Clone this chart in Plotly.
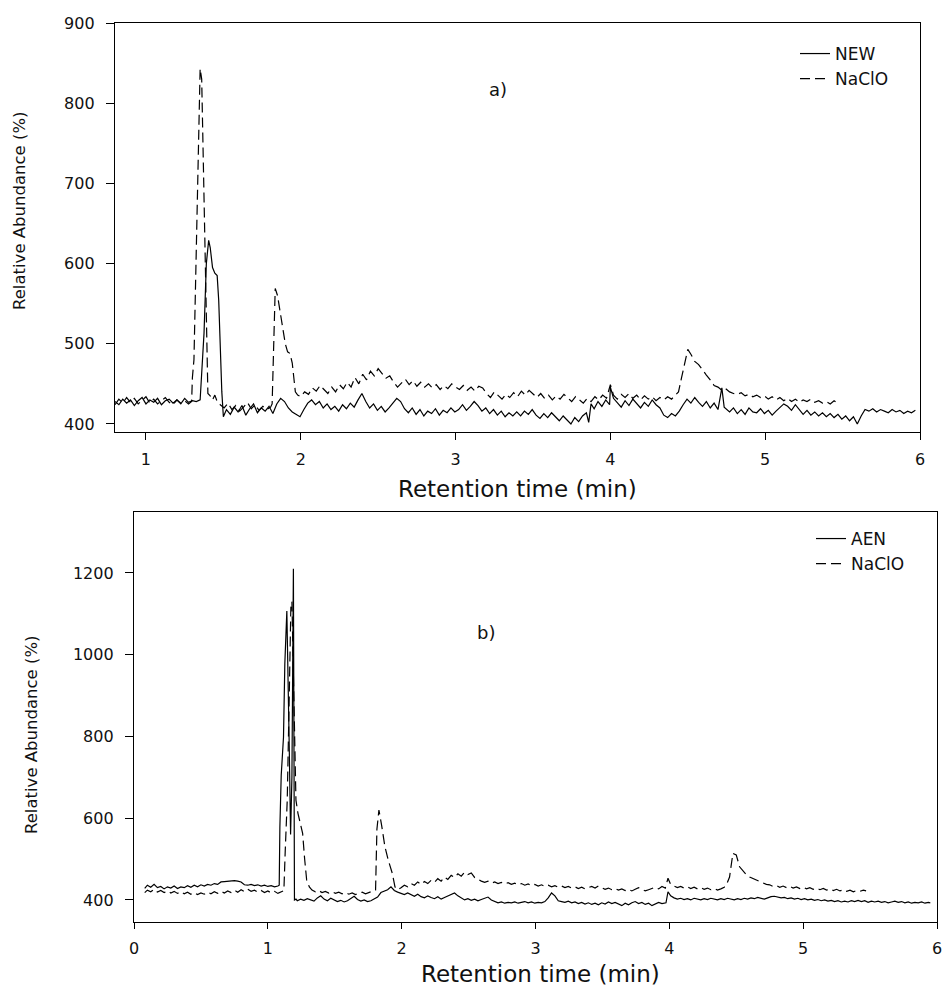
import plotly.graph_objects as go

# ---------------- data ----------------
# Panel a) : NEW vs NaClO
NEW_A = [(0.80,428),(0.825,424),(0.85,431),(0.875,426),(0.90,430),(0.925,423),(0.95,429),(0.975,433),
 (1.00,425),(1.025,430),(1.05,427),(1.075,432),(1.10,424),(1.125,429),(1.15,431),(1.175,426),(1.20,430),
 (1.225,425),(1.25,432),(1.275,427),(1.30,429),(1.325,428),(1.35,430),(1.36,470),(1.375,513),(1.39,600),
 (1.405,629),(1.415,620),(1.43,595),(1.445,588),(1.46,585),(1.47,554),(1.48,492),(1.49,440),(1.50,409),
 (1.52,418),(1.545,412),(1.57,421),(1.595,415),(1.62,423),(1.645,411),(1.67,419),(1.695,425),(1.72,414),
 (1.745,420),(1.77,416),(1.795,422),(1.82,413),(1.845,425),(1.87,432),(1.895,428),(1.92,420),(1.945,415),
 (1.97,412),(1.995,409),(2.02,418),(2.045,426),(2.07,430),(2.095,424),(2.12,428),(2.145,420),(2.17,425),
 (2.195,418),(2.22,422),(2.245,416),(2.27,424),(2.295,419),(2.32,426),(2.345,421),(2.37,430),(2.395,438),
 (2.42,428),(2.445,420),(2.47,425),(2.495,417),(2.52,422),(2.545,415),(2.57,420),(2.595,426),(2.62,432),
 (2.645,428),(2.67,419),(2.695,414),(2.72,420),(2.745,412),(2.77,418),(2.795,410),(2.82,416),(2.845,413),
 (2.87,419),(2.895,411),(2.92,417),(2.945,414),(2.97,420),(2.995,415),(3.02,418),(3.045,424),(3.07,417),
 (3.095,422),(3.12,428),(3.145,423),(3.17,416),(3.195,420),(3.22,413),(3.245,418),(3.27,411),(3.295,416),
 (3.32,409),(3.345,414),(3.37,410),(3.395,415),(3.42,410),(3.445,416),(3.47,412),(3.495,418),(3.52,411),
 (3.545,407),(3.57,413),(3.595,408),(3.62,414),(3.645,409),(3.67,404),(3.695,410),(3.72,405),(3.745,400),
 (3.77,408),(3.795,403),(3.82,410),(3.845,414),(3.86,402),(3.875,425),(3.895,419),(3.92,428),(3.945,422),
 (3.97,430),(3.995,424),(4.00,446),(4.02,432),(4.045,426),(4.07,421),(4.095,429),(4.12,423),(4.145,431),
 (4.17,425),(4.195,420),(4.22,427),(4.245,422),(4.27,430),(4.295,424),(4.32,420),(4.345,411),(4.37,408),
 (4.395,413),(4.42,410),(4.445,416),(4.47,424),(4.495,431),(4.52,426),(4.545,433),(4.57,427),(4.595,422),
 (4.62,428),(4.645,420),(4.67,426),(4.695,418),(4.72,445),(4.735,421),(4.77,415),(4.795,420),(4.82,413),
 (4.845,418),(4.87,412),(4.895,420),(4.92,415),(4.945,414),(4.97,419),(4.995,413),(5.02,417),(5.045,411),
 (5.07,416),(5.095,420),(5.12,425),(5.145,422),(5.17,417),(5.195,424),(5.22,418),(5.245,412),(5.27,417),
 (5.295,411),(5.32,415),(5.345,410),(5.37,414),(5.395,409),(5.42,413),(5.445,408),(5.47,412),(5.495,406),
 (5.52,410),(5.545,404),(5.57,409),(5.595,400),(5.62,410),(5.645,418),(5.67,416),(5.695,419),(5.72,415),
 (5.745,418),(5.77,416),(5.795,414),(5.82,418),(5.845,415),(5.87,417),(5.895,413),(5.92,416),(5.945,414),
 (5.97,417)]

NACLO_A = [(0.80,424),(0.825,431),(0.85,426),(0.875,433),(0.90,427),(0.925,432),(0.95,425),(0.975,430),
 (1.00,434),(1.025,426),(1.05,431),(1.075,425),(1.10,429),(1.125,433),(1.15,427),(1.175,424),(1.20,430),
 (1.225,426),(1.25,429),(1.275,425),(1.295,428),(1.30,458),(1.31,480),(1.32,566),(1.33,678),(1.34,760),
 (1.35,843),(1.36,830),(1.37,740),(1.38,637),(1.39,520),(1.40,438),(1.415,435),(1.43,430),(1.445,436),
 (1.46,428),(1.48,424),(1.505,420),(1.53,426),(1.555,418),(1.58,423),(1.605,416),(1.63,421),(1.655,427),
 (1.68,419),(1.705,424),(1.73,417),(1.755,422),(1.78,418),(1.805,421),(1.815,425),(1.82,471),(1.835,569),
 (1.85,560),(1.87,535),(1.885,520),(1.90,500),(1.915,490),(1.93,488),(1.945,476),(1.955,460),(1.965,440),
 (1.98,436),(2.00,434),(2.025,440),(2.05,437),(2.075,445),(2.10,441),(2.125,448),(2.15,443),(2.175,438),
 (2.20,446),(2.225,440),(2.25,449),(2.275,444),(2.30,452),(2.325,446),(2.35,458),(2.375,450),(2.40,462),
 (2.425,455),(2.45,466),(2.475,460),(2.50,469),(2.525,463),(2.55,457),(2.575,460),(2.60,452),(2.625,446),
 (2.65,451),(2.675,456),(2.70,449),(2.725,454),(2.75,447),(2.775,452),(2.80,446),(2.825,450),(2.85,445),
 (2.875,449),(2.90,443),(2.925,448),(2.95,444),(2.975,450),(3.00,446),(3.025,443),(3.05,448),(3.075,442),
 (3.10,446),(3.125,441),(3.15,447),(3.175,445),(3.20,438),(3.225,433),(3.25,440),(3.275,436),(3.30,431),
 (3.325,437),(3.35,433),(3.375,439),(3.40,434),(3.425,441),(3.45,436),(3.475,442),(3.50,437),(3.525,433),
 (3.55,438),(3.575,432),(3.60,436),(3.625,430),(3.65,435),(3.675,431),(3.70,437),(3.725,433),(3.75,428),
 (3.775,434),(3.80,430),(3.825,426),(3.85,432),(3.875,428),(3.90,434),(3.925,430),(3.95,436),(3.975,432),
 (4.00,449),(4.02,436),(4.045,431),(4.07,437),(4.095,433),(4.12,438),(4.145,432),(4.17,436),(4.195,430),
 (4.22,435),(4.245,431),(4.27,434),(4.295,429),(4.32,433),(4.345,430),(4.37,434),(4.395,431),(4.42,436),
 (4.44,440),(4.46,458),(4.48,477),(4.50,493),(4.52,487),(4.545,478),(4.57,474),(4.595,467),(4.62,461),
 (4.645,455),(4.67,448),(4.695,446),(4.72,442),(4.745,444),(4.77,440),(4.795,438),(4.82,437),(4.845,439),
 (4.87,435),(4.895,437),(4.92,434),(4.945,436),(4.97,433),(4.995,435),(5.02,431),(5.045,434),(5.07,430),
 (5.095,433),(5.12,429),(5.145,432),(5.17,428),(5.195,431),(5.22,427),(5.245,430),(5.27,428),(5.295,431),
 (5.32,427),(5.345,429),(5.37,426),(5.395,428),(5.42,425),(5.445,429),(5.47,426)]

# Panel b) : AEN vs NaClO
AEN_B = [(0.08,428),(0.10,436),(0.125,431),(0.15,438),(0.175,430),(0.20,433),(0.225,427),(0.25,432),
 (0.275,429),(0.30,434),(0.325,428),(0.35,432),(0.375,430),(0.40,435),(0.425,431),(0.45,436),(0.475,432),
 (0.50,437),(0.525,434),(0.55,438),(0.575,436),(0.60,440),(0.625,438),(0.65,444),(0.675,445),(0.70,446),
 (0.725,446),(0.75,447),(0.775,446),(0.80,444),(0.825,437),(0.85,436),(0.875,438),(0.90,435),(0.925,437),
 (0.95,434),(0.975,436),(1.00,433),(1.025,435),(1.05,432),(1.075,434),(1.085,436),(1.09,578),(1.10,705),
 (1.117,798),(1.127,978),(1.142,1107),(1.150,985),(1.160,773),(1.170,560),(1.180,700),(1.191,1210),
 (1.199,400),(1.21,402),(1.22,398),(1.245,402),(1.27,399),(1.295,403),(1.32,400),(1.345,397),(1.37,405),
 (1.395,410),(1.42,402),(1.445,398),(1.47,404),(1.495,400),(1.52,396),(1.545,399),(1.57,395),(1.595,398),
 (1.62,403),(1.645,409),(1.67,401),(1.695,397),(1.72,400),(1.745,396),(1.77,398),(1.795,402),(1.82,407),
 (1.845,418),(1.87,421),(1.895,425),(1.92,432),(1.945,423),(1.97,419),(1.995,416),(2.02,413),(2.045,417),
 (2.07,412),(2.095,409),(2.12,414),(2.145,408),(2.17,405),(2.195,410),(2.22,406),(2.245,403),(2.27,408),
 (2.295,402),(2.32,406),(2.345,410),(2.37,414),(2.395,417),(2.42,410),(2.445,404),(2.47,400),(2.495,403),
 (2.52,399),(2.545,402),(2.57,398),(2.595,401),(2.62,404),(2.645,407),(2.67,400),(2.695,396),(2.72,393),
 (2.745,395),(2.77,392),(2.795,394),(2.82,393),(2.845,395),(2.87,392),(2.895,394),(2.92,396),(2.945,393),
 (2.97,395),(2.995,392),(3.02,394),(3.045,393),(3.07,396),(3.095,405),(3.12,417),(3.145,410),(3.17,398),
 (3.195,396),(3.22,394),(3.245,397),(3.27,393),(3.295,395),(3.32,391),(3.345,394),(3.37,390),(3.395,393),
 (3.42,389),(3.445,392),(3.47,388),(3.495,393),(3.52,390),(3.545,395),(3.57,391),(3.595,394),(3.62,389),
 (3.645,386),(3.67,392),(3.695,388),(3.72,393),(3.745,396),(3.77,391),(3.795,394),(3.82,389),(3.845,392),
 (3.87,386),(3.895,390),(3.92,394),(3.945,391),(3.975,393),(3.99,420),(4.01,410),(4.035,405),(4.06,402),
 (4.085,404),(4.11,401),(4.135,403),(4.16,400),(4.185,404),(4.21,402),(4.235,400),(4.26,403),(4.285,401),
 (4.31,404),(4.335,402),(4.36,400),(4.385,403),(4.41,401),(4.435,404),(4.46,402),(4.485,400),(4.51,403),
 (4.535,401),(4.56,404),(4.585,402),(4.61,405),(4.635,403),(4.66,406),(4.685,404),(4.71,402),(4.735,405),
 (4.76,408),(4.785,409),(4.81,407),(4.835,405),(4.86,406),(4.885,403),(4.91,405),(4.935,402),(4.96,404),
 (4.985,401),(5.01,403),(5.035,400),(5.06,402),(5.085,399),(5.11,401),(5.135,398),(5.16,400),(5.185,397),
 (5.21,399),(5.235,396),(5.26,398),(5.285,395),(5.31,397),(5.335,395),(5.36,398),(5.385,396),(5.41,399),
 (5.435,396),(5.46,398),(5.485,394),(5.51,397),(5.535,395),(5.56,397),(5.585,394),(5.61,396),(5.635,393),
 (5.66,395),(5.685,397),(5.71,394),(5.735,396),(5.76,393),(5.785,395),(5.81,392),(5.835,394),(5.86,393),
 (5.885,395),(5.91,392),(5.935,394),(5.95,393)]

NACLO_B = [(0.08,418),(0.10,424),(0.125,420),(0.15,426),(0.175,419),(0.20,423),(0.225,418),(0.25,422),
 (0.275,417),(0.30,421),(0.325,416),(0.35,420),(0.375,415),(0.40,419),(0.425,414),(0.45,418),(0.475,413),
 (0.50,417),(0.525,414),(0.55,419),(0.575,415),(0.60,420),(0.625,416),(0.65,421),(0.675,417),(0.70,422),
 (0.725,418),(0.75,424),(0.775,419),(0.80,425),(0.825,420),(0.85,426),(0.875,421),(0.90,424),(0.925,419),
 (0.95,423),(0.975,418),(1.00,422),(1.025,417),(1.05,421),(1.075,416),(1.10,419),(1.12,423),(1.13,520),
 (1.145,644),(1.16,900),(1.172,1115),(1.18,1130),(1.19,953),(1.20,760),(1.21,644),(1.225,612),(1.24,590),
 (1.26,563),(1.275,500),(1.29,449),(1.31,432),(1.33,424),(1.355,420),(1.38,423),(1.405,418),(1.43,421),
 (1.455,417),(1.48,420),(1.505,416),(1.53,419),(1.555,415),(1.58,418),(1.605,414),(1.63,417),(1.655,413),
 (1.68,416),(1.705,419),(1.73,415),(1.755,418),(1.78,421),(1.805,424),(1.815,573),(1.83,620),(1.85,583),
 (1.875,530),(1.90,497),(1.93,465),(1.95,432),(1.97,425),(1.995,430),(2.02,436),(2.045,432),(2.07,440),
 (2.095,436),(2.12,444),(2.145,438),(2.17,445),(2.195,440),(2.22,448),(2.245,443),(2.27,452),(2.295,446),
 (2.32,456),(2.345,450),(2.37,460),(2.395,455),(2.42,464),(2.445,458),(2.47,468),(2.495,462),(2.52,466),
 (2.545,455),(2.57,450),(2.595,446),(2.62,443),(2.645,446),(2.67,441),(2.695,444),(2.72,440),(2.745,443),
 (2.77,439),(2.795,442),(2.82,438),(2.845,441),(2.87,437),(2.895,440),(2.92,436),(2.945,439),(2.97,435),
 (2.995,438),(3.02,434),(3.045,437),(3.07,433),(3.095,436),(3.12,432),(3.145,435),(3.17,431),(3.195,434),
 (3.22,430),(3.245,433),(3.27,429),(3.295,432),(3.32,428),(3.345,431),(3.37,427),(3.395,430),(3.42,433),
 (3.445,429),(3.47,434),(3.495,430),(3.52,426),(3.545,429),(3.57,425),(3.595,428),(3.62,424),(3.645,427),
 (3.67,423),(3.695,426),(3.72,422),(3.745,426),(3.77,430),(3.795,426),(3.82,422),(3.845,425),(3.87,428),
 (3.895,431),(3.92,427),(3.945,433),(3.97,429),(3.99,453),(4.01,438),(4.035,434),(4.06,430),(4.085,433),
 (4.11,429),(4.135,432),(4.16,428),(4.185,431),(4.21,427),(4.235,430),(4.26,426),(4.285,429),(4.31,425),
 (4.335,428),(4.36,424),(4.385,427),(4.41,431),(4.43,440),(4.45,456),(4.475,514),(4.50,510),(4.525,481),
 (4.55,470),(4.575,462),(4.60,456),(4.625,452),(4.65,449),(4.675,445),(4.70,441),(4.725,438),(4.75,437),
 (4.775,433),(4.80,435),(4.825,431),(4.85,434),(4.875,430),(4.90,433),(4.925,429),(4.95,432),(4.975,428),
 (5.00,431),(5.025,427),(5.05,430),(5.075,426),(5.10,429),(5.125,425),(5.15,428),(5.175,424),(5.20,427),
 (5.225,423),(5.25,426),(5.275,422),(5.30,425),(5.325,421),(5.35,424),(5.375,420),(5.40,423),(5.425,421),
 (5.45,424),(5.47,422)]

X_TICKS_A = [1, 2, 3, 4, 5, 6]
Y_TICKS_A = [400, 500, 600, 700, 800, 900]
X_TICKS_B = [0, 1, 2, 3, 4, 5, 6]
Y_TICKS_B = [400, 600, 800, 1000, 1200]

# ---------------- figure ----------------
W, H = 946, 987
FONT = "DejaVu Sans"
INK = "#111111"
DASH = "10px,5px"

def px_x(p):
    return p / W

def px_y(p):
    return 1 - p / H

fig = go.Figure()

def add(series, name, dash, xa, ya, legend):
    t, v = zip(*series)
    fig.add_trace(go.Scatter(x=list(t), y=list(v), mode="lines", name=name,
                             line=dict(color="black", width=1.2, dash=dash),
                             xaxis=xa, yaxis=ya, legend=legend))

add(NEW_A, "NEW", "solid", "x", "y", "legend")
add(NACLO_A, "NaClO", DASH, "x", "y", "legend")
add(AEN_B, "AEN", "solid", "x2", "y2", "legend2")
add(NACLO_B, "NaClO", DASH, "x2", "y2", "legend2")

axis_common = dict(showline=True, mirror=True, linecolor="black", linewidth=1.3,
                   ticks="outside", tickcolor="black", tickwidth=1.2, showgrid=False,
                   zeroline=False, automargin=False,
                   tickfont=dict(family=FONT, size=16, color=INK))

fig.update_layout(
    width=W, height=H, autosize=False,
    margin=dict(l=0, r=0, t=0, b=0, autoexpand=False),
    paper_bgcolor="white", plot_bgcolor="white",
    xaxis=dict(domain=[px_x(115), px_x(920)], range=[0.8, 6.0], tickvals=X_TICKS_A,
               anchor="y", ticklen=7, ticklabelstandoff=6, **axis_common),
    yaxis=dict(domain=[px_y(432), px_y(23)], range=[390, 900], tickvals=Y_TICKS_A,
               anchor="x", ticklen=8, ticklabelstandoff=8, **axis_common),
    xaxis2=dict(domain=[px_x(134), px_x(937)], range=[0, 6], tickvals=X_TICKS_B,
                anchor="y2", ticklen=6, ticklabelstandoff=6, **axis_common),
    yaxis2=dict(domain=[px_y(922), px_y(512)], range=[346, 1349], tickvals=Y_TICKS_B,
                anchor="x2", ticklen=8, ticklabelstandoff=8, **axis_common),
    legend=dict(x=px_x(795), y=px_y(36), xanchor="left", yanchor="top",
                bgcolor="rgba(0,0,0,0)", font=dict(family=FONT, size=17, color=INK),
                tracegroupgap=0),
    legend2=dict(x=px_x(811), y=px_y(521), xanchor="left", yanchor="top",
                 bgcolor="rgba(0,0,0,0)", font=dict(family=FONT, size=17, color=INK),
                 tracegroupgap=0),
    showlegend=True,
)

def label(text, x, y, size, angle=0):
    fig.add_annotation(text=text, x=px_x(x), y=px_y(y), xref="paper", yref="paper",
                       showarrow=False, textangle=angle, xanchor="center", yanchor="middle",
                       font=dict(family=FONT, size=size, color=INK))

label("Retention time (min)", 517, 489, 23)
label("Retention time (min)", 540, 974, 23)
label("Relative Abundance (%)", 19, 211, 16.5, -90)
label("Relative Abundance (%)", 31, 735, 16.5, -90)
label("a)", 498, 90, 18)
label("b)", 486, 632, 18)

fig.write_html("out.html")
